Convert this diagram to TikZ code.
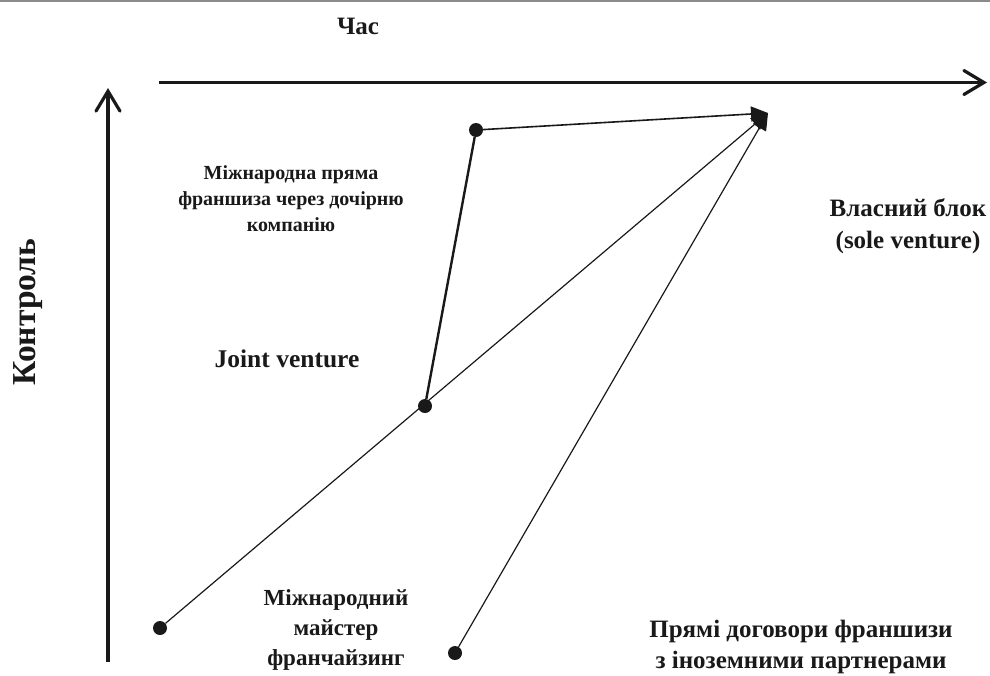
\documentclass[tikz,border=0pt]{standalone}
\usepackage{fontspec}
\setmainfont{Liberation Serif}
\usetikzlibrary{arrows.meta}
\begin{document}
\begin{tikzpicture}[x=1pt,y=-1pt,
  dot/.style={circle,fill=black!90,inner sep=0pt,minimum size=14pt},
  axis/.style={line width=3.2pt,black!90,-{Straight Barb[length=20pt,width=24pt,line width=3.2pt,line cap=round]}},
  conn/.style={line width=1.2pt,black!90,-{Triangle[length=17pt,width=15pt]}},
  lbl/.style={font=\bfseries,align=center,text=black!90,inner sep=0pt}]
\useasboundingbox (0,0) rectangle (990,675);
\draw[black!45,line width=2pt] (0,0.5) -- (990,0.5);
% axes
\coordinate (hx0) at (159,82.5);
\coordinate (hx1) at (987,82.5);
\coordinate (vy0) at (108,662);
\coordinate (vy1) at (108,88);
\draw[axis] (hx0) -- (hx1);
\draw[axis] (vy0) -- (vy1);
% points
\node[dot] (a) at (160,628) {};
\node[dot] (b) at (425,406) {};
\node[dot] (c) at (476,130) {};
\node[dot] (d) at (455,653) {};
\coordinate (e) at (768,113);
\draw[conn] (a) -- (e);
\draw[conn] (d) -- (e);
\draw[conn,line width=1.6pt] (c) -- (e);
\draw[line width=2.4pt,black!90] (b) -- (c);
% labels
\node[lbl,font=\bfseries\fontsize{25}{28}\selectfont] (t) at (358,26) {Час};
\node[lbl,font=\bfseries\fontsize{33.5}{36}\selectfont,rotate=90] (k) at (28,312) {Контроль};
\node[lbl,font=\bfseries\fontsize{20}{26}\selectfont] (l1) at (291,199) {Міжнародна пряма\\франшиза через дочірню\\компанію};
\node[lbl,font=\bfseries\fontsize{25}{32}\selectfont] (l2) at (908,226) {Власний блок\\(sole venture)};
\node[lbl,font=\bfseries\fontsize{25.5}{30}\selectfont] (l3) at (287,359) {Joint venture};
\node[lbl,font=\bfseries\fontsize{23}{30}\selectfont] (l4) at (336,630) {Міжнародний\\майстер\\франчайзинг};
\node[lbl,font=\bfseries\fontsize{25}{31}\selectfont] (l5) at (801,647) {Прямі договори франшизи\\з іноземними партнерами};
\end{tikzpicture}
\end{document}
